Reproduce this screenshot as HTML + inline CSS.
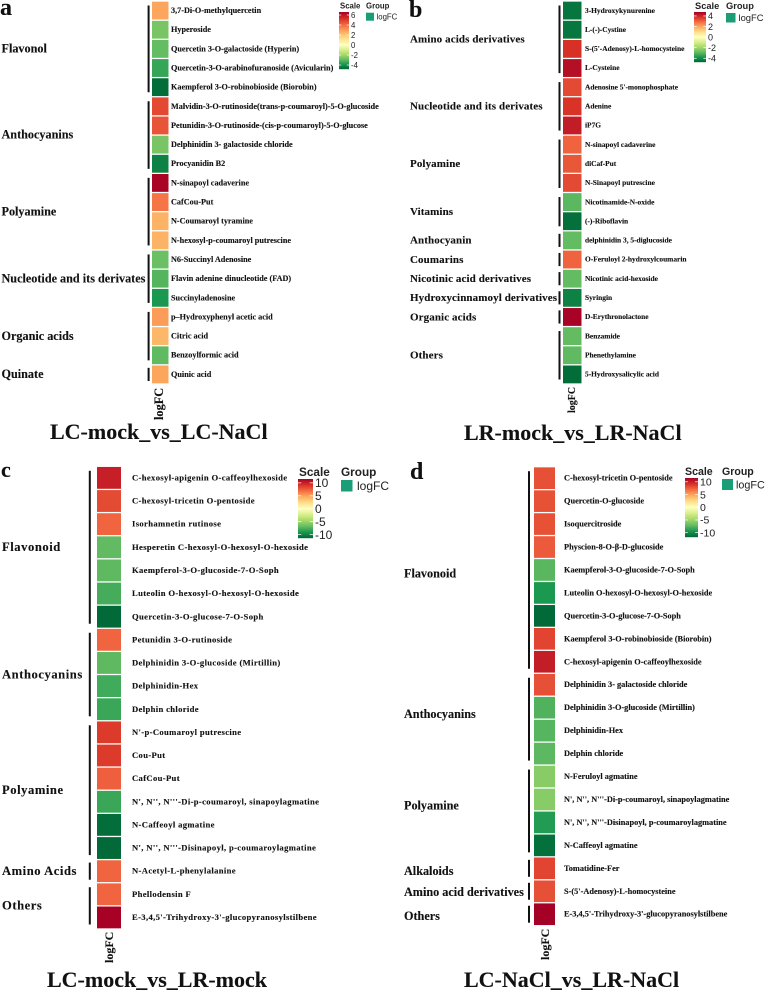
<!DOCTYPE html>
<html lang="en">
<head>
<meta charset="utf-8">
<title>Metabolite logFC heatmaps</title>
<style>
  html, body { margin: 0; padding: 0; background: #fff; width: 766px; height: 992px; overflow: hidden; }
  svg { display: block; filter: blur(0.25px); }
  .serif { font-family: "Liberation Serif", "Noto Serif CJK SC", serif; font-weight: 700; fill: #111; stroke: #111; stroke-width: 0.12; }
  .sans { font-family: "Liberation Sans", "DejaVu Sans", sans-serif; fill: #222; }
</style>
</head>
<body>
<svg id="figure" width="766" height="992" viewBox="0 0 766 992" xmlns="http://www.w3.org/2000/svg">
  <rect width="766" height="992" fill="#fff"/>
  <text class="serif" x="0" y="15" font-size="24">a</text>
  <text class="serif" x="409" y="17" font-size="24">b</text>
  <text class="serif" x="1" y="477" font-size="22">c</text>
  <text class="serif" x="410" y="479" font-size="24">d</text>
  <text class="serif" x="50" y="439" font-size="22">LC-mock_vs_LC-NaCl</text>
  <text class="serif" x="464" y="440" font-size="22">LR-mock_vs_LR-NaCl</text>
  <text class="serif" x="47" y="987" font-size="22">LC-mock_vs_LR-mock</text>
  <text class="serif" x="464" y="987" font-size="22">LC-NaCl_vs_LR-NaCl</text>
</svg>
<script>
// ---------- Panel a data ----------
const aLabels = ["3,7-Di-O-methylquercetin","Hyperoside","Quercetin 3-O-galactoside (Hyperin)","Quercetin-3-O-arabinofuranoside (Avicularin)","Kaempferol 3-O-robinobioside (Biorobin)","Malvidin-3-O-rutinoside(trans-p-coumaroyl)-5-O-glucoside","Petunidin-3-O-rutinoside-(cis-p-coumaroyl)-5-O-glucose","Delphinidin 3- galactoside chloride","Procyanidin B2","N-sinapoyl cadaverine","CafCou-Put","N-Coumaroyl tyramine","N-hexosyl-p-coumaroyl putrescine","N6-Succinyl Adenosine","Flavin adenine dinucleotide (FAD)","Succinyladenosine","p\u2013Hydroxyphenyl acetic acid","Citric acid","Benzoylformic acid","Quinic acid"];
const aValues = [2.8,-2.6,-2.9,-3.5,-4.7,4.75,4.5,-2.6,-4.3,6.5,3.8,2.5,2.5,-2.8,-3.1,-3.85,3.0,2.4,-2.95,2.8];
const aGroupNames = ["Flavonol","Anthocyanins","Polyamine","Nucleotide and its derivates","Organic acids","Quinate"];
const aGroupCounts = [5,4,4,3,3,1];
const aTicks = [6,4,2,0,-2,-4];
const aDomain = [-4.8,6.6];

// ---------- Panel b data ----------
const bLabels = ["3-Hydroxykynurenine","L-(-)-Cystine","S-(5'-Adenosy)-L-homocysteine","L-Cysteine","Adenosine 5'-monophosphate","Adenine","iP7G","N-sinapoyl cadaverine","diCaf-Put","N-Sinapoyl putrescine","Nicotinamide-N-oxide","(-)-Riboflavin","delphinidin 3, 5-diglucoside","O-Feruloyl 2-hydroxylcoumarin","Nicotinic acid-hexoside","Syringin","D-Erythronolactone","Benzamide","Phenethylamine","5-Hydroxysalicylic acid"];
const bValues = [-4.45,-4.4,3.8,4.45,3.4,3.75,4.2,3.0,3.2,3.4,-2.95,-4.55,-2.85,3.0,-2.85,-4.2,4.7,-2.85,-2.9,-4.6];
const bGroupNames = ["Amino acids derivatives","Nucleotide and its derivates","Polyamine","Vitamins","Anthocyanin","Coumarins","Nicotinic acid derivatives","Hydroxycinnamoyl derivatives","Organic acids","Others"];
const bGroupCounts = [4,3,3,2,1,1,1,1,1,3];
const bTicks = [4,2,0,-2,-4];
const bDomain = [-4.7,4.75];

// ---------- Panel c data ----------
const cLabels = ["C-hexosyl-apigenin O-caffeoylhexoside","C-hexosyl-tricetin O-pentoside","Isorhamnetin rutinose","Hesperetin C-hexosyl-O-hexosyl-O-hexoside","Kaempferol-3-O-glucoside-7-O-Soph","Luteolin O-hexosyl-O-hexosyl-O-hexoside","Quercetin-3-O-glucose-7-O-Soph","Petunidin 3-O-rutinoside","Delphinidin 3-O-glucoside (Mirtillin)","Delphinidin-Hex","Delphin chloride","N'-p-Coumaroyl putrescine","Cou-Put","CafCou-Put","N', N'', N'''-Di-p-coumaroyl, sinapoylagmatine","N-Caffeoyl agmatine","N', N'', N'''-Disinapoyl, p-coumaroylagmatine","N-Acetyl-L-phenylalanine","Phellodensin F","E-3,4,5'-Trihydroxy-3'-glucopyranosylstilbene"];
const cValues = [10,8.2,7.2,-6.9,-7,-7.8,-11.2,7.2,-7,-7.9,-8.1,8.8,8.8,7.4,-8.1,-11,-11.2,7.2,7.2,11.4];
const cGroupNames = ["Flavonoid","Anthocyanins","Polyamine","Amino Acids","Others"];
const cGroupCounts = [7,4,6,1,2];
const cTicks = [10,5,0,-5,-10];
const cDomain = [-11.3,11.5];

// ---------- Panel d data ----------
const dLabels = ["C-hexosyl-tricetin O-pentoside","Quercetin-O-glucoside","Isoquercitroside","Physcion-8-O-\u03B2-D-glucoside","Kaempferol-3-O-glucoside-7-O-Soph","Luteolin O-hexosyl-O-hexosyl-O-hexoside","Quercetin-3-O-glucose-7-O-Soph","Kaempferol 3-O-robinobioside (Biorobin)","C-hexosyl-apigenin O-caffeoylhexoside","Delphinidin 3- galactoside chloride","Delphinidin 3-O-glucoside (Mirtillin)","Delphinidin-Hex","Delphin chloride","N-Feruloyl agmatine","N', N'', N'''-Di-p-coumaroyl, sinapoylagmatine","N', N'', N'''-Disinapoyl, p-coumaroylagmatine","N-Caffeoyl agmatine","Tomatidine-Fer","S-(5'-Adenosy)-L-homocysteine","E-3,4,5'-Trihydroxy-3'-glucopyranosylstilbene"];
const dValues = [8,7.9,7.9,7.6,-7.4,-9.3,-11.6,8.4,10.1,8,-7.7,-7.5,-7.3,-5.8,-5.8,-9.1,-11.3,8.4,8,11.5];
const dGroupNames = ["Flavonoid","Anthocyanins","Polyamine","Alkaloids","Amino acid derivatives","Others"];
const dGroupCounts = [9,4,4,1,1,1];
const dTicks = [10,5,0,-5,-10];
const dDomain = [-11.7,11.5];

// ---------- Colour ramps (RdYlGn) ----------
const positiveRamp = ["#ffffbf","#fee08b","#fdae61","#f46d43","#d73027","#a50026"];
const negativeRamp = ["#ffffbf","#d9ef8b","#a6d96a","#66bd63","#1a9850","#006837"];

const SVG_NS = "http://www.w3.org/2000/svg";
const figure = document.getElementById("figure");

function mix(ramp, t) {
  const clamped = Math.max(0, Math.min(1, t)) * (ramp.length - 1);
  const i = Math.min(Math.floor(clamped), ramp.length - 2);
  const f = clamped - i;
  const parts = [1, 3, 5].map(function (p) {
    const a = parseInt(ramp[i].substr(p, 2), 16);
    const b = parseInt(ramp[i + 1].substr(p, 2), 16);
    return Math.round(a + (b - a) * f);
  });
  return "rgb(" + parts.join(",") + ")";
}

function colorScale(value, domain) {
  return value >= 0 ? mix(positiveRamp, value / domain[1]) : mix(negativeRamp, value / domain[0]);
}

function make(tag, attrs, parent) {
  const el = document.createElementNS(SVG_NS, tag);
  Object.keys(attrs).forEach(function (k) { el.setAttribute(k, attrs[k]); });
  parent.appendChild(el);
  return el;
}

function drawPanel(p) {
  const panel = make("g", {}, figure);
  
  

  const pitch = (p.cellBottom - p.cellTop) / p.values.length;
  const bandY = function (i) { return p.cellTop + i * pitch; };

  // Cells and row labels
  p.values.forEach(function (v, i) {
    const cell = make("rect", {
      x: p.cellX, y: bandY(i) + 0.65, width: p.cellW, height: pitch - 1.3,
      fill: colorScale(v, p.domain)
    }, panel);
    
    

    const label = make("text", {
      x: p.labelX, y: bandY(i) + pitch / 2 + p.labelSize * 0.3,
      "font-size": p.labelSize, "letter-spacing": p.labelSpacing, "class": "serif"
    }, panel);
    
    
    label.textContent = p.labels[i];
  });

  // Group brackets and names
  let start = 0;
  p.groupNames.forEach(function (name, g) {
    const n = p.groupCounts[g];
    const inset = n > 1 ? 4.5 : 3;
    const top = bandY(start) + inset;
    const bottom = bandY(start + n) - inset;
    const bar = make("rect", { x: p.bracketX, y: top, width: p.bracketW, height: bottom - top, fill: "#111" }, panel);
    
    

    const nudge = p.groupNudge ? p.groupNudge[g] : 0;
    const text = make("text", {
      x: p.groupX, y: (top + bottom) / 2 + p.groupSize * 0.3 + nudge,
      "font-size": p.groupSize, "letter-spacing": p.groupSpacing, "class": "serif"
    }, panel);
    
    
    text.textContent = name;
    start += n;
  });

  // Rotated column label
  const col = make("text", {
    transform: "translate(" + p.colX + "," + p.colY + ") rotate(-90)",
    "font-size": p.colSize, "class": "serif"
  }, panel);
  
  
  col.textContent = "logFC";

  // Colour legend
  const legend = make("g", {}, panel);
  
  

  const legendY = function (v) {
    return p.barTop + (p.domain[1] - v) / (p.domain[1] - p.domain[0]) * (p.barBottom - p.barTop);
  };
  for (let y = p.barTop; y < p.barBottom; y += 1) {
    const v = p.domain[1] - (y + 0.5 - p.barTop) / (p.barBottom - p.barTop) * (p.domain[1] - p.domain[0]);
    const slice = make("rect", { x: p.barX, y: y, width: p.barW, height: 1.2, fill: colorScale(v, p.domain) }, legend);
    
    
  }
  p.ticks.forEach(function (t) {
    const y = legendY(t);
    const dash = p.barW * 0.22;
    [p.barX, p.barX + p.barW - dash].forEach(function (x0) {
      const mark = make("line", { x1: x0, x2: x0 + dash, y1: y, y2: y, stroke: "#fff", "stroke-width": 0.7 }, legend);
      
      
    });
    const tick = make("text", {
      x: p.barX + p.barW + 2, y: y + p.tickSize * 0.36, "font-size": p.tickSize, "class": "sans"
    }, legend);
    
    
    tick.textContent = String(t);
  });

  const scaleTitle = make("text", {
    x: p.scaleX, y: p.titleY, "font-size": p.titleSize, "font-weight": 700, "class": "sans"
  }, legend);
  
  
  scaleTitle.textContent = "Scale";

  const groupTitle = make("text", {
    x: p.swatchX, y: p.titleY, "font-size": p.titleSize, "font-weight": 700, "class": "sans"
  }, legend);
  
  
  groupTitle.textContent = "Group";

  const swatch = make("rect", {
    x: p.swatchX, y: p.swatchY, width: p.swatchS, height: p.swatchS, fill: "#1b9e77"
  }, legend);
  
  

  const swatchText = make("text", {
    x: p.swatchX + p.swatchS + p.logGap, y: p.swatchY + p.swatchS / 2 + p.logSize * 0.36,
    "font-size": p.logSize, "class": "sans"
  }, legend);
  
  
  swatchText.textContent = "logFC";
}

drawPanel({
  id: "a", labels: aLabels, values: aValues, groupNames: aGroupNames, groupCounts: aGroupCounts, ticks: aTicks, domain: aDomain,
  cellX: 152, cellW: 16.5, cellTop: 1, cellBottom: 384, labelX: 171, labelSize: 8.2, labelSpacing: 0,
  bracketX: 147.6, bracketW: 2, groupX: 1.5, groupSize: 12.2, groupSpacing: 0,
  colX: 163, colY: 420, colSize: 12.3,
  barX: 339, barW: 10, barTop: 12, barBottom: 69, tickSize: 7.8,
  scaleX: 340, titleY: 8.5, titleSize: 7.8, swatchX: 366, swatchY: 12.7, swatchS: 8, logSize: 7.8, logGap: 2.5
});

drawPanel({
  id: "b", labels: bLabels, values: bValues, groupNames: bGroupNames, groupCounts: bGroupCounts, ticks: bTicks, domain: bDomain,
  cellX: 563, cellW: 18.5, cellTop: 1, cellBottom: 384, labelX: 585, labelSize: 7.4, labelSpacing: 0,
  bracketX: 558.5, bracketW: 2, groupX: 410, groupSize: 11, groupSpacing: 0.1,
  colX: 575, colY: 413, colSize: 10,
  barX: 694, barW: 12, barTop: 12, barBottom: 62, tickSize: 9,
  scaleX: 695, titleY: 9, titleSize: 9.3, swatchX: 726, swatchY: 13, swatchS: 9.5, logSize: 9.4, logGap: 3
});

drawPanel({
  id: "c", labels: cLabels, values: cValues, groupNames: cGroupNames, groupCounts: cGroupCounts, ticks: cTicks, domain: cDomain,
  cellX: 97, cellW: 24, cellTop: 466.3, cellBottom: 929, labelX: 132, labelSize: 8.6, labelSpacing: 0.35,
  bracketX: 88.8, bracketW: 2, groupX: 2, groupSize: 12.6, groupSpacing: 0.55,
  colX: 113, colY: 963, colSize: 12,
  barX: 298, barW: 15, barTop: 479, barBottom: 538, tickSize: 12,
  scaleX: 299, titleY: 476, titleSize: 11.8, swatchX: 341, swatchY: 480, swatchS: 11.5, logSize: 12, logGap: 4.5
});

drawPanel({
  id: "d", labels: dLabels, values: dValues, groupNames: dGroupNames, groupCounts: dGroupCounts, ticks: dTicks, domain: dDomain,
  cellX: 534, cellW: 21, cellTop: 466.7, cellBottom: 925.7, labelX: 564, labelSize: 8.3, labelSpacing: 0,
  bracketX: 528, bracketW: 2, groupX: 404, groupSize: 12.2, groupSpacing: 0,
  groupNudge: [4, -5, -5, 3, 1, 2],
  colX: 549, colY: 960, colSize: 12,
  barX: 685, barW: 13, barTop: 478, barBottom: 537, tickSize: 10.5,
  scaleX: 685, titleY: 475, titleSize: 10.6, swatchX: 722, swatchY: 479, swatchS: 11, logSize: 10.8, logGap: 3
});
</script>
</body>
</html>
